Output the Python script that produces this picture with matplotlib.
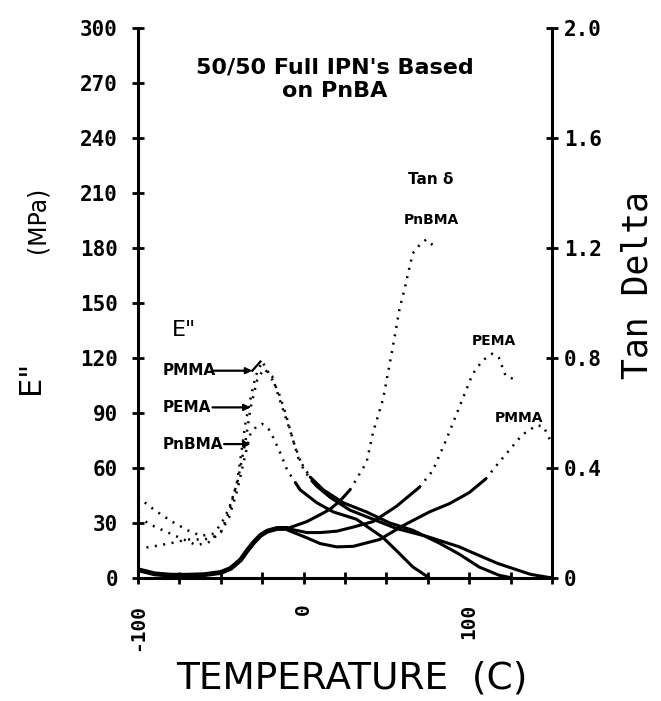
import matplotlib
matplotlib.use("Agg")
import matplotlib.pyplot as plt

# E'' (MPa) -- dotted where the points spread out, solid where they pile up
PMMA_E_DOT_T = [-100, -90, -80, -70, -65, -58, -50, -45, -40, -35, -32, -29, -25, -20, -15, -11, -6, 0, 5]
PMMA_E_DOT = [33, 28, 24, 20, 18, 19, 25, 36, 53, 85, 98, 110, 118, 110, 101, 90, 74, 59, 53]
PMMA_E_SOL_T = [5, 8, 16, 28, 42, 56, 75, 94, 99, 117, 137, 150]
PMMA_E_SOL = [53, 50, 44, 37, 32, 27, 22.5, 17, 15, 8, 2, 0]

PEMA_E_DOT_T = [-100, -90, -80, -70, -62, -55, -50, -45, -40, -35, -32, -28, -24, -19, -14, -8, -3, 4]
PEMA_E_DOT = [44, 37, 31, 26, 23, 24, 29, 38, 52, 75, 93, 108, 114, 110, 96, 80, 65, 55]
PEMA_E_SOL_T = [4, 12, 24, 38, 52, 66, 82, 94, 106, 118, 126]
PEMA_E_SOL = [55, 48, 41, 36, 30, 26, 19, 13, 6, 1.5, 0]

PNBMA_E_DOT_T = [-100, -92, -80, -70, -60, -55, -50, -45, -40, -35, -32, -28, -25, -21, -18, -14, -10, -5]
PNBMA_E_DOT = [16, 17, 19, 21, 21, 22, 25, 33, 48, 68, 79, 83, 84, 81, 76, 68, 59, 52]
PNBMA_E_SOL_T = [-5, -2, 8, 18, 32, 40, 48, 56, 66, 76]
PNBMA_E_SOL = [52, 48, 41, 36, 32, 27, 22, 15, 6, 0]

# tan delta -- common low-temperature part, then three branches
TAN_LOW_T = [-100, -90, -80, -70, -60, -50, -44, -38, -34, -30, -26, -22, -16, -10]
TAN_LOW = [0.03, 0.015, 0.01, 0.01, 0.012, 0.02, 0.035, 0.066, 0.10, 0.13, 0.155, 0.17, 0.18, 0.18]

PNBMA_TAN_SOL_T = [-10, -5, 2, 10, 16, 22, 28]
PNBMA_TAN_SOL = [0.18, 0.19, 0.205, 0.23, 0.25, 0.28, 0.32]
PNBMA_TAN_DOT_T = [28, 32, 38, 42, 48, 53, 58, 61, 64, 66, 70, 74, 78]
PNBMA_TAN_DOT = [0.32, 0.36, 0.42, 0.53, 0.65, 0.81, 0.98, 1.05, 1.13, 1.18, 1.21, 1.23, 1.21]

PEMA_TAN_SOL_T = [-10, 2, 10, 20, 30, 42, 56, 70]
PEMA_TAN_SOL = [0.18, 0.165, 0.165, 0.17, 0.185, 0.205, 0.26, 0.33]
PEMA_TAN_DOT_T = [70, 78, 86, 94, 102, 108, 114, 118, 122, 128]
PEMA_TAN_DOT = [0.33, 0.39, 0.50, 0.62, 0.74, 0.79, 0.815, 0.80, 0.735, 0.72]

PMMA_TAN_SOL_T = [-10, 2, 10, 20, 30, 46, 60, 76, 88, 100, 110]
PMMA_TAN_SOL = [0.175, 0.146, 0.125, 0.113, 0.115, 0.14, 0.19, 0.24, 0.27, 0.31, 0.36]
PMMA_TAN_DOT_T = [110, 118, 125, 132, 137, 141, 145, 149]
PMMA_TAN_DOT = [0.36, 0.42, 0.47, 0.52, 0.54, 0.555, 0.55, 0.50]

X_TICKS = [-100, -75, -50, -25, 0, 25, 50, 75, 100, 125, 150]
X_LABELS = ["-100", "", "", "", "0", "", "", "", "100", "", ""]
E_TICKS = [0, 30, 60, 90, 120, 150, 180, 210, 240, 270, 300]
TAN_TICKS = [0, 0.4, 0.8, 1.2, 1.6, 2.0]
TAN_LABELS = ["0", "0.4", "0.8", "1.2", "1.6", "2.0"]

MONO = ["DejaVu Sans Mono"]
NARROW = ["Liberation Sans Narrow", "DejaVu Sans"]
DOT = (0, (0.8, 2.6))

fig = plt.figure(figsize=(6.61, 7.01), dpi=100)
ax = fig.add_axes([0.2088, 0.1755, 0.6262, 0.785])
ax2 = ax.twinx()

for t, v in ((PMMA_E_DOT_T, PMMA_E_DOT), (PEMA_E_DOT_T, PEMA_E_DOT), (PNBMA_E_DOT_T, PNBMA_E_DOT)):
    ax.plot(t, v, color="k", lw=1.8, ls=DOT)
for t, v in ((PMMA_E_SOL_T, PMMA_E_SOL), (PEMA_E_SOL_T, PEMA_E_SOL), (PNBMA_E_SOL_T, PNBMA_E_SOL)):
    ax.plot(t, v, color="k", lw=2.2, solid_capstyle="round")

ax2.plot(TAN_LOW_T, TAN_LOW, color="k", lw=3.5, solid_capstyle="round")
for t, v in ((PNBMA_TAN_SOL_T, PNBMA_TAN_SOL), (PEMA_TAN_SOL_T, PEMA_TAN_SOL), (PMMA_TAN_SOL_T, PMMA_TAN_SOL)):
    ax2.plot(t, v, color="k", lw=2.2, solid_capstyle="round")
for t, v in ((PNBMA_TAN_DOT_T, PNBMA_TAN_DOT), (PEMA_TAN_DOT_T, PEMA_TAN_DOT), (PMMA_TAN_DOT_T, PMMA_TAN_DOT)):
    ax2.plot(t, v, color="k", lw=1.8, ls=DOT)

ax.set_xlim(-100, 150)
ax.set_ylim(0, 300)
ax2.set_ylim(0, 2.0)

for a in (ax, ax2):
    a.spines["top"].set_visible(False)
    for s in a.spines.values():
        s.set_linewidth(2.2)
ax.spines["right"].set_visible(False)
ax2.spines["left"].set_visible(False)
ax2.spines["bottom"].set_visible(False)

ax.set_xticks(X_TICKS)
ax.set_xticklabels(X_LABELS, rotation=90, family=MONO, fontweight="bold", fontsize=14)
ax.set_yticks(E_TICKS)
ax.set_yticklabels([str(v) for v in E_TICKS], family=MONO, fontweight="bold", fontsize=15)
ax2.set_yticks(TAN_TICKS)
ax2.set_yticklabels(TAN_LABELS, family=MONO, fontweight="bold", fontsize=15)
ax.tick_params(axis="y", direction="inout", length=9, width=2, pad=10)
ax.tick_params(axis="x", direction="inout", length=9, width=2, pad=14)
ax2.tick_params(axis="y", direction="inout", length=9, width=2, pad=4)

# titles and in-plot labels
ax.text(19, 272, "50/50 Full IPN's Based\non PnBA", ha="center", va="center",
        fontsize=16, fontweight="bold", linespacing=1.2)
ax.text(-72, 135, 'E"', ha="center", va="center", fontsize=16)
for name, y in (("PMMA", 113), ("PEMA", 93), ("PnBMA", 73)):
    ax.text(-85, y, name, ha="left", va="center", fontsize=11, fontweight="bold", family=NARROW)
ax.annotate("", xy=(-31, 113), xytext=(-55, 113),
            arrowprops=dict(arrowstyle="-|>", lw=1.6, color="k", mutation_scale=9, shrinkA=0, shrinkB=0))
ax.plot([-31, -26], [113, 118], color="k", lw=1.6)
ax.annotate("", xy=(-32, 93), xytext=(-55, 93),
            arrowprops=dict(arrowstyle="-|>", lw=1.6, color="k", mutation_scale=9, shrinkA=0, shrinkB=0))
ax.annotate("", xy=(-32, 73), xytext=(-48, 73),
            arrowprops=dict(arrowstyle="-|>", lw=1.6, color="k", mutation_scale=9, shrinkA=0, shrinkB=0))

ax2.text(77, 1.45, "Tan δ", ha="center", va="center", fontsize=11, fontweight="bold", family=NARROW)
ax2.text(77, 1.30, "PnBMA", ha="center", va="center", fontsize=10, fontweight="bold", family=NARROW)
ax2.text(115, 0.86, "PEMA", ha="center", va="center", fontsize=10, fontweight="bold", family=NARROW)
ax2.text(130, 0.58, "PMMA", ha="center", va="center", fontsize=10, fontweight="bold", family=NARROW)

# axis titles
fig.text(30 / 661, 1 - 377 / 701, 'E"', rotation=90, ha="center", va="center", fontsize=22)
fig.text(37 / 661, 1 - 220 / 701, "(MPa)", rotation=90, ha="center", va="center", fontsize=17)
fig.text(638 / 661, 1 - 285 / 701, "Tan Delta", rotation=90, ha="center", va="center",
         fontsize=25, family=MONO)
fig.text(352 / 661, 1 - 678 / 701, "TEMPERATURE  (C)", ha="center", va="center", fontsize=27)

fig.savefig("out.png", dpi=100)
